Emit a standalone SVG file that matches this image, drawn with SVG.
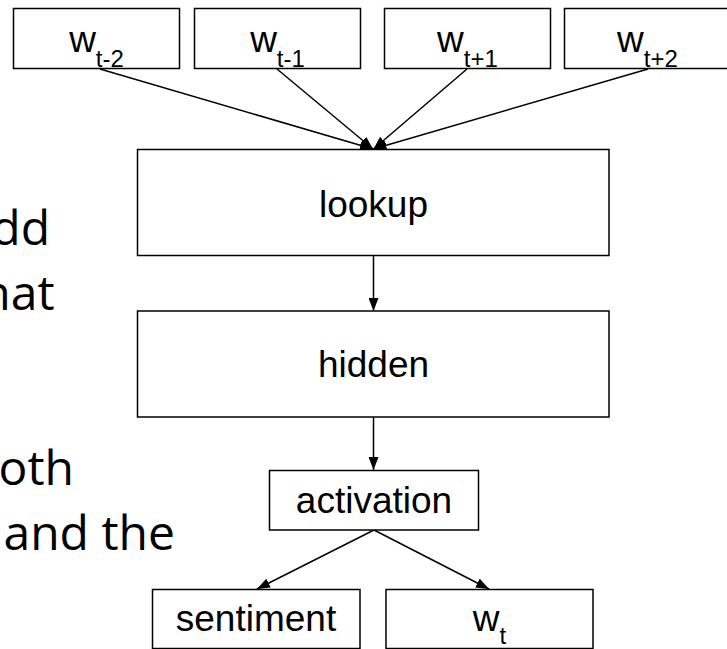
<svg xmlns="http://www.w3.org/2000/svg" width="727" height="649" viewBox="0 0 727 649">
<style>
.box{fill:#fff;stroke:#000;stroke-width:1.5}
.lbl{font-family:"Liberation Sans",Arial,sans-serif;font-size:37px;fill:#000;text-anchor:middle}
.sub{font-size:24px}
.bg{font-family:"Open Sans","Noto Sans",sans-serif;font-size:48px;fill:#000}
.edge{stroke:#000;stroke-width:1.5;fill:none;marker-end:url(#ah)}
</style>
<defs>
<marker id="ah" markerUnits="userSpaceOnUse" markerWidth="13" markerHeight="10" refX="13" refY="5" orient="auto">
<path d="M0,0 L13,5 L0,10 z" fill="#000"/>
</marker>
</defs>
<rect width="727" height="649" fill="#fff"/>
<g id="background-text">
<text class="bg" x="50" y="245" text-anchor="end">dd</text>
<text class="bg" x="54.5" y="310" text-anchor="end">hat</text>
<text class="bg" x="74" y="485" text-anchor="end">oth</text>
<text class="bg" x="3.5" y="550">and the</text>
</g>
<g id="connectors">
<line class="edge" x1="100" y1="69" x2="373" y2="149"/>
<line class="edge" x1="277" y1="69" x2="373" y2="149"/>
<line class="edge" x1="467" y1="69" x2="373.5" y2="149"/>
<line class="edge" x1="648" y1="69" x2="373.5" y2="149"/>
<line class="edge" x1="373.5" y1="256" x2="373.5" y2="311"/>
<line class="edge" x1="373.5" y1="417" x2="373.5" y2="470"/>
<line class="edge" x1="374" y1="530" x2="257" y2="589"/>
<line class="edge" x1="374" y1="530" x2="489" y2="589"/>
</g>
<g id="w_t-2">
<rect class="box" x="13.5" y="8.5" width="166" height="60"/>
<text class="lbl" x="96.5" y="52">w<tspan class="sub" dy="15">t-2</tspan></text>
</g>
<g id="w_t-1">
<rect class="box" x="194.5" y="8.5" width="166" height="60"/>
<text class="lbl" x="277.5" y="52">w<tspan class="sub" dy="15">t-1</tspan></text>
</g>
<g id="w_t+1">
<rect class="box" x="384.5" y="8.5" width="166" height="60"/>
<text class="lbl" x="467.5" y="52">w<tspan class="sub" dy="15">t+1</tspan></text>
</g>
<g id="w_t+2">
<rect class="box" x="564.5" y="8.5" width="166" height="60"/>
<text class="lbl" x="647.5" y="52">w<tspan class="sub" dy="15">t+2</tspan></text>
</g>
<g id="lookup">
<rect class="box" x="137.5" y="149.5" width="471.5" height="106"/>
<text class="lbl" x="373.5" y="216.5">lookup</text>
</g>
<g id="hidden">
<rect class="box" x="137.5" y="311" width="471.5" height="106"/>
<text class="lbl" x="373.5" y="377">hidden</text>
</g>
<g id="activation">
<rect class="box" x="269.5" y="470.5" width="209" height="59.5"/>
<text class="lbl" x="374" y="513">activation</text>
</g>
<g id="sentiment">
<rect class="box" x="152.5" y="589.5" width="207.5" height="59"/>
<text class="lbl" x="256" y="630.5">sentiment</text>
</g>
<g id="w_t">
<rect class="box" x="386" y="589.5" width="207" height="59"/>
<text class="lbl" x="489.5" y="631">w<tspan class="sub" dy="13">t</tspan></text>
</g>
</svg>
